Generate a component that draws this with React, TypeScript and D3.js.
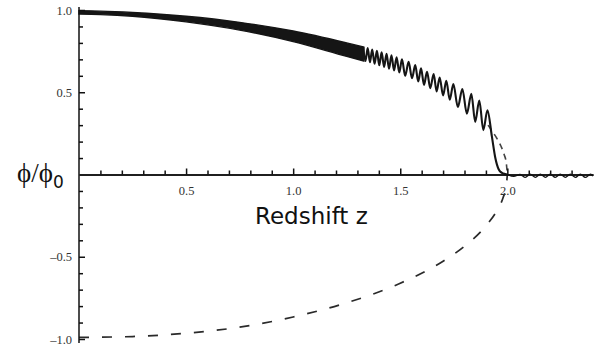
import React, { useEffect, useRef } from "react";
import * as d3 from "d3";

const width = 612;
const height = 355;

// dense part of the oscillation, drawn as a band (upper / lower envelope)
const bandZ = [0, 0.1, 0.25, 0.5, 0.75, 1.0, 1.25, 1.33];
const bandTop = [0.995, 0.993, 0.985, 0.962, 0.925, 0.872, 0.8, 0.775];
const bandBottom = [0.975, 0.972, 0.962, 0.928, 0.878, 0.808, 0.718, 0.69];

// resolved crests and troughs, then the drop to zero at z = 2
const waveZ = [1.327, 1.3375, 1.348, 1.3585, 1.369, 1.38, 1.391, 1.402, 1.413, 1.4245, 1.436, 1.4475, 1.459, 1.471, 1.483, 1.4955, 1.508, 1.523, 1.539, 1.555, 1.57, 1.584, 1.597, 1.611, 1.625, 1.64, 1.656, 1.67, 1.684, 1.7, 1.715, 1.731, 1.748, 1.769, 1.79, 1.811, 1.832, 1.85, 1.869, 1.888, 1.907, 1.928, 1.944, 1.96, 1.975, 1.99, 2.0];
const waveV = [0.775, 0.69, 0.768, 0.682, 0.76, 0.673, 0.752, 0.664, 0.743, 0.654, 0.734, 0.643, 0.724, 0.632, 0.713, 0.62, 0.7, 0.6, 0.685, 0.585, 0.665, 0.565, 0.645, 0.545, 0.625, 0.525, 0.61, 0.505, 0.59, 0.48, 0.57, 0.455, 0.55, 0.41, 0.52, 0.37, 0.49, 0.32, 0.45, 0.27, 0.39, 0.23, 0.1, 0.03, 0.01, 0.003, 0.0];

// small ripples after z = 2
const tailZ = [2.0, 2.03, 2.06, 2.084, 2.107, 2.131, 2.154, 2.178, 2.2, 2.224, 2.247, 2.271, 2.294, 2.318, 2.341, 2.364, 2.388, 2.4];
const tailV = [0.0, -0.012, 0.0, -0.018, 0.002, -0.018, 0.002, -0.018, 0.002, -0.018, 0.002, -0.018, 0.002, -0.018, 0.002, -0.018, 0.002, -0.01];

// dashed envelope
const dashZ = [0, 0.25, 0.5, 0.75, 1.0, 1.25, 1.5, 1.7, 1.8, 1.9, 1.95, 1.98, 1.995, 2.0];
const dashLower = [-0.99, -0.985, -0.965, -0.928, -0.866, -0.78, -0.661, -0.527, -0.436, -0.312, -0.222, -0.141, -0.071, 0];
const dashUpperZ = [1.91, 1.93, 1.95, 1.97, 1.985, 1.995, 2.0];
const dashUpper = [0.3, 0.262, 0.222, 0.173, 0.122, 0.071, 0];

const xMajor = [0.5, 1.0, 1.5, 2.0];
const xMinor = [0.1, 0.2, 0.3, 0.4, 0.6, 0.7, 0.8, 0.9, 1.1, 1.2, 1.3, 1.4, 1.6, 1.7, 1.8, 1.9, 2.1, 2.2, 2.3];
const yMajor = [-1.0, -0.5, 0.5, 1.0];
const yMajorLabels = ["\u20131.0", "\u20130.5", "0.5", "1.0"];
const yMinor = [-0.9, -0.8, -0.7, -0.6, -0.4, -0.3, -0.2, -0.1, 0.1, 0.2, 0.3, 0.4, 0.6, 0.7, 0.8, 0.9];

const App = () => {
  const ref = useRef<SVGSVGElement>(null);

  useEffect(() => {
    const svg = d3.select(ref.current);
    svg.selectAll("*").remove();

    const x = d3.scaleLinear().domain([0, 2.4]).range([79, 593]);
    const y = d3.scaleLinear().domain([-1, 1]).range([339, 10]);

    // dashed curves
    const dashLine = d3.line<number>().x((d, i) => x(dashZ[i])).y(d => y(d)).curve(d3.curveMonotoneX);
    svg.append("path")
      .attr("d", dashLine(dashLower))
      .attr("fill", "none")
      .attr("stroke", "#2a2a2a")
      .attr("stroke-width", 1.7)
      .attr("stroke-dasharray", "10,13");
    const dashUp = d3.line<number>().x((d, i) => x(dashUpperZ[i])).y(d => y(d)).curve(d3.curveMonotoneX);
    svg.append("path")
      .attr("d", dashUp(dashUpper))
      .attr("fill", "none")
      .attr("stroke", "#444")
      .attr("stroke-width", 1.6)
      .attr("stroke-dasharray", "6,5");

    // band
    const band = d3.area<number>()
      .x((d, i) => x(bandZ[i]))
      .y0((d, i) => y(bandBottom[i]))
      .y1(d => y(d))
      .curve(d3.curveMonotoneX);
    svg.append("path")
      .attr("d", band(bandTop))
      .attr("fill", "#151515")
      .attr("stroke", "#151515")
      .attr("stroke-width", 1.4);

    const wave = d3.line<number>().x((d, i) => x(waveZ[i])).y(d => y(d)).curve(d3.curveMonotoneX);
    svg.append("path")
      .attr("d", wave(waveV))
      .attr("fill", "none")
      .attr("stroke", "#151515")
      .attr("stroke-width", 2.1);

    const tail = d3.line<number>().x((d, i) => x(tailZ[i])).y(d => y(d)).curve(d3.curveCatmullRom);
    svg.append("path")
      .attr("d", tail(tailV))
      .attr("fill", "none")
      .attr("stroke", "#151515")
      .attr("stroke-width", 1.3);

    // x axis
    const gx = svg.append("g").attr("transform", `translate(0,${y(0)})`);
    gx.call(d3.axisBottom(x).tickValues(xMinor).tickSizeInner(-4).tickSizeOuter(0).tickFormat(() => ""));
    gx.call(g => g.append("g").call(
      d3.axisBottom(x).tickValues(xMajor).tickSizeInner(-6).tickSizeOuter(0).tickPadding(12).tickFormat(d3.format(".1f"))
    ));
    gx.selectAll(".domain").attr("stroke", "#111").attr("stroke-width", 1.5);
    gx.selectAll("line").attr("stroke", "#111").attr("stroke-width", 1.5);
    gx.selectAll("text")
      .attr("font-family", "'Liberation Serif', serif")
      .attr("font-size", 12.5)
      .attr("fill", "#333");

    // y axis
    const gy = svg.append("g").attr("transform", `translate(${x(0)},0)`);
    gy.call(d3.axisLeft(y).tickValues(yMinor).tickSizeInner(-4).tickSizeOuter(0).tickFormat(() => ""));
    gy.call(g => g.append("g").call(
      d3.axisLeft(y).tickValues(yMajor).tickSizeInner(-6).tickSizeOuter(0).tickPadding(7)
        .tickFormat((d, i) => yMajorLabels[i])
    ));
    gy.selectAll(".domain").remove();
    gy.append("line")
      .attr("y1", y(1) - 3)
      .attr("y2", y(-1) + 4)
      .attr("stroke", "#111")
      .attr("stroke-width", 1.6);
    gy.selectAll("line").attr("stroke", "#111").attr("stroke-width", 1.5);
    gy.selectAll("text")
      .attr("font-family", "'Liberation Serif', serif")
      .attr("font-size", 12.5)
      .attr("fill", "#333");

    // labels
    const yl = svg.append("text")
      .attr("x", 17)
      .attr("y", 182)
      .attr("font-family", "'Liberation Serif', serif")
      .attr("font-size", 27)
      .attr("fill", "#111");
    yl.append("tspan").text("\u03d5/\u03d5");
    yl.append("tspan")
      .attr("font-family", "'DejaVu Sans', sans-serif")
      .attr("font-size", 17)
      .attr("dy", 6)
      .text("0");

    svg.append("text")
      .attr("x", 255)
      .attr("y", 224)
      .attr("font-family", "'DejaVu Sans', sans-serif")
      .attr("font-size", 23)
      .attr("fill", "#111")
      .text("Redshift z");
  }, []);

  return (
    <div style={{ position: "absolute", left: 0, top: 0, background: "#fff" }}>
      <svg ref={ref} width={width} height={height} viewBox={`0 0 ${width} ${height}`} />
    </div>
  );
};

export default App;
